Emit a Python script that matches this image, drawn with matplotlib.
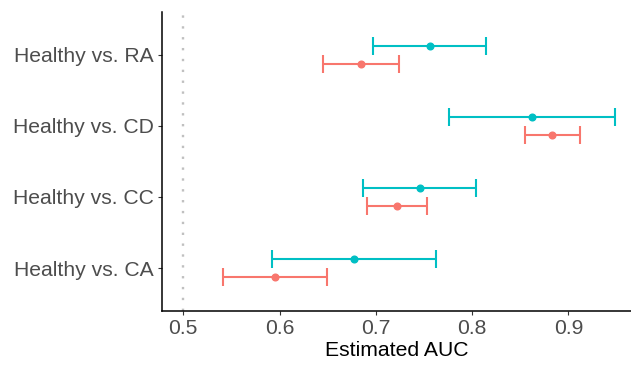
import numpy as np
import matplotlib
matplotlib.use("Agg")
import matplotlib.pyplot as plt

plt.rcParams['font.family'] = ['Liberation Sans', 'DejaVu Sans']

# comparisons, bottom to top
labels = ["Healthy vs. CA", "Healthy vs. CC", "Healthy vs. CD", "Healthy vs. RA"]

# cyan series (upper in each pair)
auc_b = [0.677, 0.746, 0.862, 0.756]
lo_b = [0.592, 0.687, 0.776, 0.697]
hi_b = [0.763, 0.804, 0.948, 0.814]

# salmon series (lower in each pair)
auc_a = [0.595, 0.722, 0.883, 0.685]
lo_a = [0.541, 0.691, 0.855, 0.645]
hi_a = [0.649, 0.753, 0.912, 0.724]

fig = plt.figure(figsize=(6.31, 3.67), dpi=100)
ax = fig.add_axes([0.2563, 0.1534, 0.7437, 0.8139])

ypos = np.arange(1, len(labels) + 1)
dodge = 0.125

# reference line at 0.5
ax.axvline(0.5, color="#C0C0C0", linestyle=(0, (1, 3.6)), linewidth=1.7,
           dash_capstyle='butt', zorder=1)

def draw(auc, lo, hi, offset, col):
    y = ypos + offset
    auc = np.array(auc)
    err = [auc - np.array(lo), np.array(hi) - auc]
    ax.errorbar(auc, y, xerr=err, fmt='o', color=col, ecolor=col,
                elinewidth=1.5, capsize=6.5, capthick=1.5, markersize=4.8,
                zorder=3)

draw(auc_a, lo_a, hi_a, -dodge, "#F8766D")
draw(auc_b, lo_b, hi_b, dodge, "#00BFC4")

ax.set_xlim(0.4776, 0.9651)
ax.set_ylim(0.4, 4.6)
ax.set_yticks(ypos)
ax.set_yticklabels(labels)
ax.set_xticks([0.5, 0.6, 0.7, 0.8, 0.9])
ax.set_xticklabels(["0.5", "0.6", "0.7", "0.8", "0.9"])

ax.spines['top'].set_visible(False)
ax.spines['right'].set_visible(False)
for s in ['left', 'bottom']:
    ax.spines[s].set_linewidth(1.1)
    ax.spines[s].set_color("black")

ax.tick_params(axis='both', colors="#333333", length=3, width=0.8,
               labelsize=15.2, labelcolor="#4D4D4D")
ax.tick_params(axis='y', pad=2.5)
ax.tick_params(axis='x', pad=3)

ax.set_xlabel("Estimated AUC", fontsize=15.2, color="black", labelpad=2)

fig.savefig("out.png", dpi=100)
